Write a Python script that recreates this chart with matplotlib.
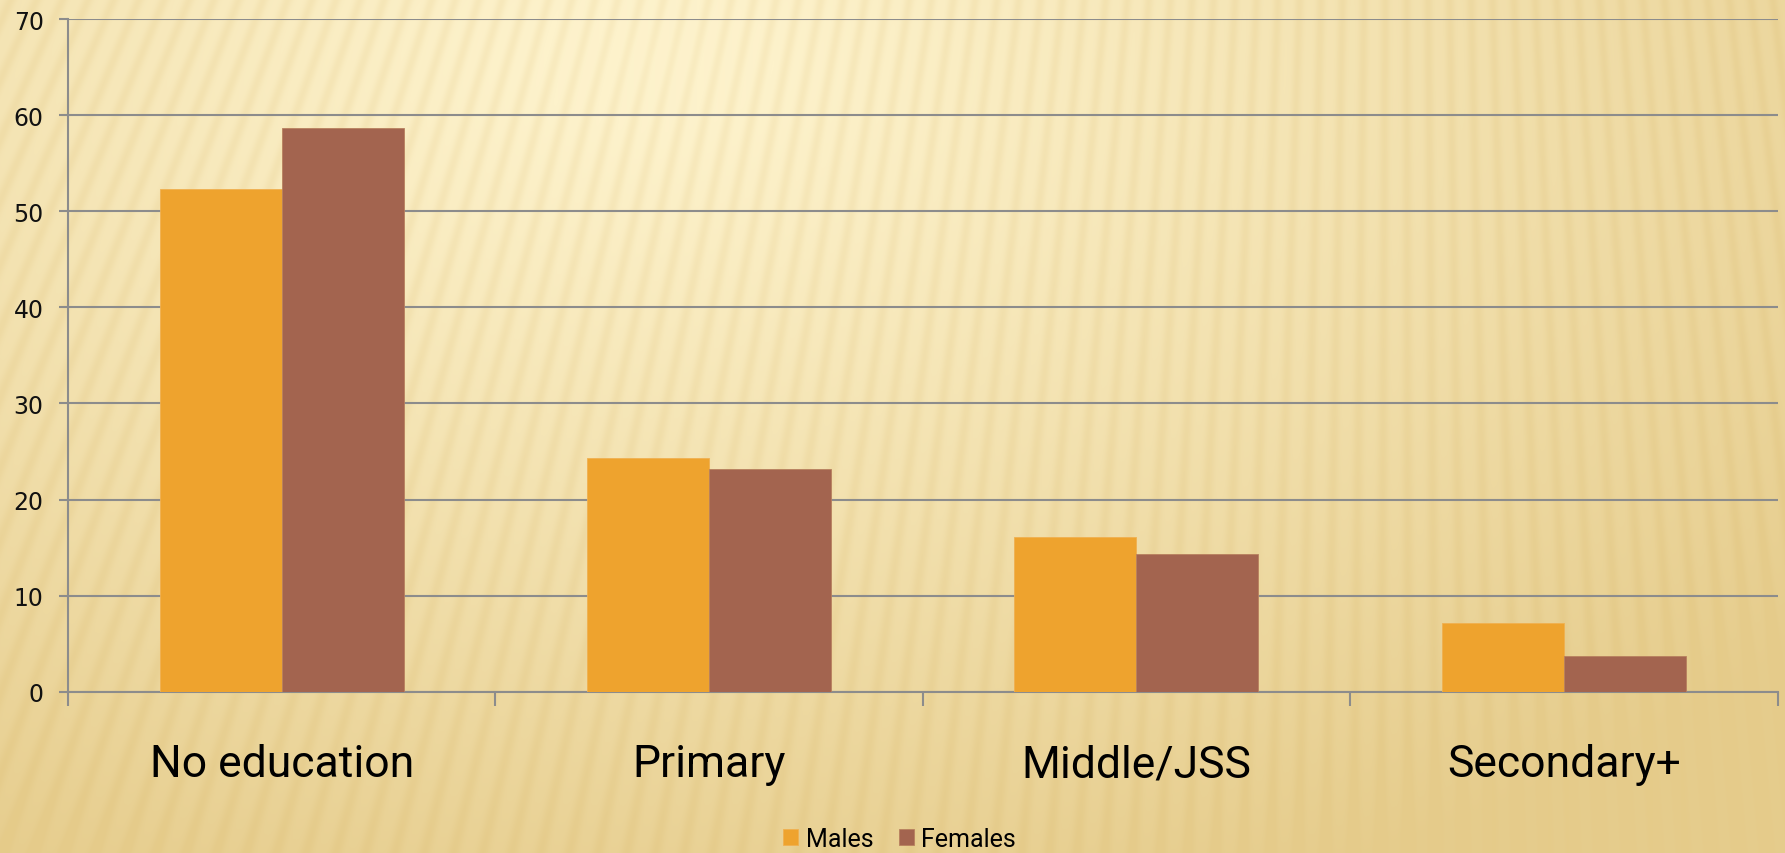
import numpy as np
import matplotlib
matplotlib.use("Agg")
import matplotlib.pyplot as plt
from matplotlib.ticker import FixedLocator, NullFormatter

categories = ["No education", "Primary", "Middle/JSS", "Secondary+"]
males = [52.3, 24.3, 16.1, 7.2]
females = [58.7, 23.2, 14.3, 3.7]
series_names = ["Males", "Females"]
y_ticks = [0, 10, 20, 30, 40, 50, 60, 70]

W, H, DPI = 1785, 854, 100
fig = plt.figure(figsize=(W / DPI, H / DPI), dpi=DPI)

# ---- decorative background (gradient + radiating stripes) ----
bg = fig.add_axes([0, 0, 1, 1], zorder=-10)
yy, xx = np.mgrid[0:H, 0:W].astype(float)
light = np.array([253, 242, 203]) / 255.0
dark = np.array([229, 203, 138]) / 255.0
d = np.sqrt(((xx - 650) / 1500.0) ** 2 + ((yy - 60) / 900.0) ** 2)
t = np.clip(d, 0, 1) ** 1.1
theta = np.arctan2(xx - 1400.0, yy + 3000.0)
stripes = 0.5 + 0.5 * np.sin(theta * 880)
stripes = stripes ** 2
t = np.clip(t + 0.22 * (stripes - 0.3) * (1.0 - 0.4 * t), 0, 1)
img = light[None, None, :] * (1 - t[..., None]) + dark[None, None, :] * t[..., None]
bg.imshow(img, aspect="auto", extent=[0, 1, 0, 1], origin="upper")
bg.set_axis_off()

# ---- main chart ----
left = 68 / W
right = 1777.5 / W
bottom = 1 - 692.7 / H
top = 1 - 20 / H
ax = fig.add_axes([left, bottom, right - left, top - bottom])
ax.patch.set_alpha(0)

x = np.arange(len(categories))
bw = 0.2855
c_m = "#EEA32E"
c_f = "#A3644F"
ax.bar(x - bw / 2, males, width=bw, color=c_m, edgecolor="#F0B050", linewidth=0.6, label=series_names[0], zorder=3)
ax.bar(x + bw / 2, females, width=bw, color=c_f, edgecolor="#B8805E", linewidth=0.6, label=series_names[1], zorder=3)

ax.set_xlim(-0.5, len(categories) - 0.5)
ax.set_ylim(0, 70)
ax.set_yticks(y_ticks)
ax.set_yticklabels([str(v) for v in y_ticks], fontsize=17, family="DejaVu Sans", color="#111111")
ax.yaxis.grid(True, color="#8C8C8C", linewidth=1.5, zorder=1)
ax.set_axisbelow(True)

ax.set_xticks(x)
ax.set_xticklabels(categories, fontsize=32, family="Roboto", color="#000000")
ax.tick_params(axis="x", which="major", length=0, pad=37)
ax.xaxis.set_minor_locator(FixedLocator(list(np.arange(-0.5, len(categories), 1.0))))
ax.xaxis.set_minor_formatter(NullFormatter())
ax.tick_params(axis="x", which="minor", length=10, width=1.5, color="#8C8C8C", direction="out")
ax.tick_params(axis="y", length=6.5, width=1.5, color="#8C8C8C", pad=11)

for s in ["top", "right"]:
    ax.spines[s].set_visible(False)
for s in ["left", "bottom"]:
    ax.spines[s].set_color("#8C8C8C")
    ax.spines[s].set_linewidth(1.5)

handles, labels = ax.get_legend_handles_labels()
fig.legend(handles, labels, loc="center", bbox_to_anchor=(0.504, 1 - 840 / H), ncol=2,
           frameon=False, prop={"family": "Roboto", "size": 18},
           handlelength=0.6, handleheight=0.6, handletextpad=0.3, columnspacing=1.0,
           borderaxespad=0, borderpad=0)

fig.savefig("out.png", dpi=DPI)
